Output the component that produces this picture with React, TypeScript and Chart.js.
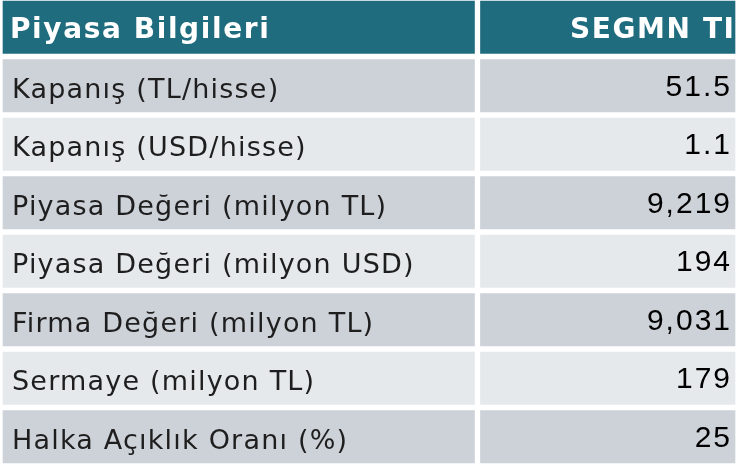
import React, { useEffect, useRef } from "react";
import { Chart, registerables } from "chart.js";

Chart.register(...registerables);

const headerLabel = "Piyasa Bilgileri";
const headerValue = "SEGMN TI";
const rowLabels = [
  "Kapanış (TL/hisse)",
  "Kapanış (USD/hisse)",
  "Piyasa Değeri (milyon TL)",
  "Piyasa Değeri (milyon USD)",
  "Firma Değeri (milyon TL)",
  "Sermaye (milyon TL)",
  "Halka Açıklık Oranı (%)",
];
const rowValues = [51.5, 1.1, 9219, 194, 9031, 179, 25];

const SPLIT = 0.647;
const TEAL = "#206c7f";
const DARK = "#cdd1d8";
const LIGHT = "#e6e9ec";

function fmt(v: number) {
  return v.toLocaleString("en-US", { maximumFractionDigits: 1 });
}

export default function App() {
  const ref = useRef<HTMLCanvasElement | null>(null);
  useEffect(() => {
    const cats = [headerLabel, ...rowLabels];
    const colors = cats.map((_, i) => (i === 0 ? TEAL : i % 2 === 1 ? DARK : LIGHT));
    const texts = [headerValue, ...rowValues.map(fmt)];

    const textPlugin = {
      id: "tableText",
      afterDatasetsDraw(chart: any) {
        const ctx = chart.ctx as CanvasRenderingContext2D;
        const leftMeta = chart.getDatasetMeta(0);
        const rightMeta = chart.getDatasetMeta(1);
        cats.forEach((lab, i) => {
          const lb = leftMeta.data[i] as any;
          const rb = rightMeta.data[i] as any;
          const cy = lb.y;
          ctx.save();
          ctx.textBaseline = "alphabetic";
          if (i === 0) {
            ctx.fillStyle = "#ffffff";
            ctx.font = "bold 28px 'DejaVu Sans'";
            (ctx as any).letterSpacing = "1.6px";
            ctx.textAlign = "left";
            ctx.fillText(lab, lb.base + 10, cy + 11);
            ctx.textAlign = "right";
            ctx.fillText(texts[i], rb.x - 4 + 1.6, cy + 11);
          } else {
            ctx.fillStyle = "#1e1e1e";
            ctx.font = "27px 'DejaVu Sans'";
            (ctx as any).letterSpacing = "1.2px";
            ctx.textAlign = "left";
            ctx.fillText(lab, lb.base + 12, cy + 12);
            ctx.fillStyle = "#000000";
            ctx.font = "30px 'Liberation Sans'";
            (ctx as any).letterSpacing = "2px";
            ctx.textAlign = "right";
            ctx.fillText(texts[i], rb.x - 8 + 2, cy + 10);
          }
          ctx.restore();
        });
      },
    };

    const chart = new Chart(ref.current as HTMLCanvasElement, {
      type: "bar",
      data: {
        labels: cats,
        datasets: [
          {
            label: "labels",
            data: cats.map(() => [0, SPLIT]) as any,
            backgroundColor: colors,
            borderColor: "#ffffff",
            borderWidth: 3,
            borderSkipped: false,
            barPercentage: 1,
            categoryPercentage: 1,
            grouped: false,
          },
          {
            label: "values",
            data: cats.map(() => [SPLIT, 1]) as any,
            backgroundColor: colors,
            borderColor: "#ffffff",
            borderWidth: 3,
            borderSkipped: false,
            barPercentage: 1,
            categoryPercentage: 1,
            grouped: false,
          },
        ],
      },
      options: {
        indexAxis: "y",
        animation: false,
        responsive: true,
        maintainAspectRatio: false,
        layout: { padding: { top: 0, bottom: 4, left: 0, right: 0 } },
        scales: {
          x: { display: false, min: 0, max: 1 },
          y: { display: false },
        },
        plugins: {
          legend: { display: false },
          tooltip: { enabled: false },
        },
      },
      plugins: [textPlugin],
    });
    return () => chart.destroy();
  }, []);

  return (
    <div style={{ position: "fixed", left: 0, top: 0, width: 738, height: 470, background: "#ffffff", overflow: "hidden" }}>
      <div style={{ position: "absolute", left: 0, top: -2, width: 738, height: 472 }}>
        <canvas ref={ref} />
      </div>
    </div>
  );
}
